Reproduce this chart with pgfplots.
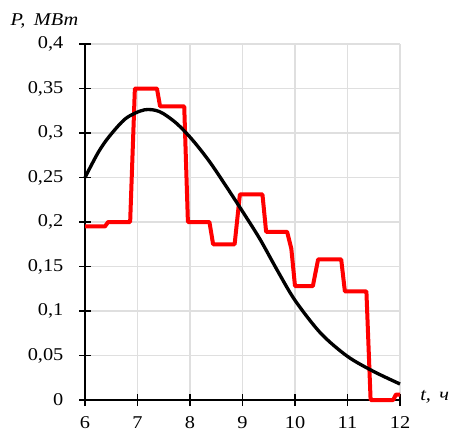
\documentclass[border=0pt]{standalone}
\usepackage{fontspec}
\setmainfont{Liberation Serif}
\usepackage{graphicx}
\usepackage{pgfplots}
\pgfplotsset{compat=1.18}
\newcommand\sx[1]{\scalebox{1.13}[1]{#1}}
\begin{document}
\fontsize{13.5}{15}\selectfont
\begin{tikzpicture}
\begin{axis}[
  name=ax,
  scale only axis,
  width=236.25pt, height=267pt,
  xmin=6, xmax=12, ymin=0, ymax=0.4,
  axis lines=left,
  axis line style={-, line width=1.2pt, black},
  xtick={6,7,8,9,10,11,12},
  xticklabels={\sx{6},\sx{7},\sx{8},\sx{9},\sx{10},\sx{11},\sx{12}},
  ytick={0,0.05,0.1,0.15,0.2,0.25,0.3,0.35,0.4},
  yticklabels={\sx{0},\sx{0,05},\sx{0,1},\sx{0,15},\sx{0,2},\sx{0,25},\sx{0,3},\sx{0,35},\sx{0,4}},
  /pgf/number format/assume math mode=true,
  tick align=center,
  major tick length=9pt,
  tick style={line width=1.1pt, black},
  grid=major,
  major grid style={line width=1pt, gray!25},
  tick label style={font=\fontsize{13.5}{15}\selectfont},
  xticklabel style={yshift=-3pt},
  yticklabel style={xshift=-7pt},
  clip=false,
]
\addplot[red, line width=3pt, line join=round] coordinates {
(6,0.195) (6.38,0.195) (6.44,0.2) (6.86,0.2) (6.95,0.35) (7.37,0.35) (7.43,0.33)
(7.89,0.33) (7.96,0.2) (8.37,0.2) (8.44,0.175) (8.85,0.175) (8.95,0.231)
(9.38,0.231) (9.45,0.189) (9.85,0.189) (9.93,0.17) (10.0,0.128) (10.34,0.128)
(10.44,0.158) (10.88,0.158) (10.95,0.122) (11.36,0.122) (11.44,0.0) (11.87,0.0)
(11.92,0.006) (12,0.006)
};
\addplot[black, line width=2.5pt, smooth] coordinates {
(6,0.250) (6.25,0.278) (6.46,0.296) (6.78,0.3165) (7.13,0.326) (7.42,0.324)
(7.74,0.311) (8.05,0.292) (8.37,0.268) (8.69,0.240) (9.01,0.211) (9.33,0.181)
(9.66,0.146) (10.0,0.112) (10.49,0.075) (11.0,0.049) (11.5,0.032) (12,0.018)
};
\node[anchor=base, inner sep=0pt] at (rel axis cs:-0.129,1.053) {\sx{\itshape P,\, МВт}};
\node[anchor=base west, inner sep=0pt] at (rel axis cs:1.0635,0) {\sx{\itshape t,\, ч}};
\end{axis}
\pgfresetboundingbox
\path ([shift={(-63.75pt,-24pt)}]ax.south west) rectangle ([shift={(36.75pt,33pt)}]ax.north east);
\end{tikzpicture}
\end{document}
